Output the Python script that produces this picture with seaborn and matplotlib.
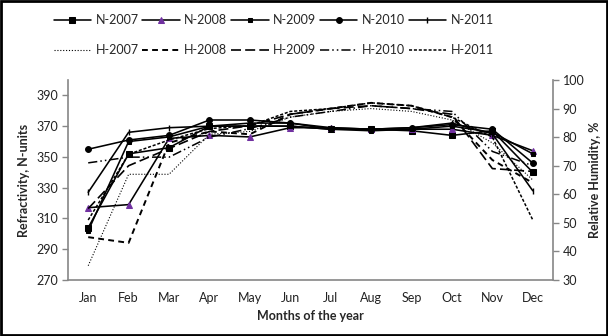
import matplotlib
matplotlib.use("Agg")
import matplotlib.pyplot as plt
import seaborn as sns
import numpy as np
import pandas as pd
from matplotlib.patches import Rectangle

sns.set_style("white")
plt.rcParams['font.family'] = ['Lato', 'DejaVu Sans']

months = ["Jan", "Feb", "Mar", "Apr", "May", "Jun", "Jul", "Aug", "Sep", "Oct", "Nov", "Dec"]

# Refractivity (N-units), left axis
n_2007 = [304, 352, 356, 370, 370, 370, 368, 368, 367, 364, 367, 340]
n_2008 = [317, 319, 362, 364, 363, 369, 369, 368, 368, 368, 364, 354]
n_2009 = [302, 360, 363, 370, 370, 370, 368, 367, 368, 370, 366, 352]
n_2010 = [355, 361, 364, 374, 374, 372, 368, 368, 369, 371, 368, 346]
n_2011 = [327, 366, 369, 370, 372, 372, 369, 368, 369, 372, 365, 328]

# Relative humidity (%), right axis
h_2007 = [35, 67, 67, 81, 82, 87, 89, 90, 89, 86, 78, 65]
h_2008 = [45, 43, 78, 82, 81, 88, 90, 92, 91, 87, 72, 64]
h_2009 = [55, 70, 76, 82, 84, 88, 90, 91, 90, 88, 69, 68]
h_2010 = [71, 73, 73, 80, 83, 87, 89, 91, 90, 89, 75, 70]
h_2011 = [51, 74, 79, 83, 84, 89, 90, 92, 91, 87, 80, 51]

left_ticks = [270, 290, 310, 330, 350, 370, 390]
right_ticks = [30, 40, 50, 60, 70, 80, 90, 100]

x = np.arange(len(months))

fig = plt.figure(figsize=(6.08, 3.36), dpi=100)
ax = fig.add_axes([68/608, 56/336, (553-68)/608, 200/336])
ax2 = ax.twinx()

purple = "#7030A0"
n_series = [
    ("N-2007", n_2007, dict(marker="s", markersize=4.5, markerfacecolor="black", markeredgecolor="black")),
    ("N-2008", n_2008, dict(marker="^", markersize=4, markerfacecolor=purple, markeredgecolor=purple)),
    ("N-2009", n_2009, dict(marker="s", markersize=3, markerfacecolor="black", markeredgecolor="black")),
    ("N-2010", n_2010, dict(marker="o", markersize=4.2, markerfacecolor="black", markeredgecolor="black")),
    ("N-2011", n_2011, dict(marker="|", markersize=5, markeredgewidth=1.0, markerfacecolor="black", markeredgecolor="black")),
]
h_series = [
    ("H-2007", h_2007, dict(linestyle=(0, (1, 1.6)), linewidth=0.8)),
    ("H-2008", h_2008, dict(linestyle=(0, (3, 2.2)), linewidth=1.4)),
    ("H-2009", h_2009, dict(linestyle=(0, (6, 2.5)), linewidth=1.2)),
    ("H-2010", h_2010, dict(linestyle=(0, (6, 2, 1, 2, 1, 2)), linewidth=1.1)),
    ("H-2011", h_2011, dict(linestyle=(0, (2, 1.2)), linewidth=1.1)),
]

n_handles = []
for name, vals, kw in n_series:
    sns.lineplot(x=x, y=vals, ax=ax, color="black", linewidth=1.15, legend=False, **kw)
    n_handles.append(ax.get_lines()[-1])
h_handles = []
for name, vals, kw in h_series:
    sns.lineplot(x=x, y=vals, ax=ax2, color="black", legend=False, **kw)
    h_handles.append(ax2.get_lines()[-1])

grey = "#868686"
ax.set_xlim(-0.5, 11.5)
ax.set_ylim(270, 400)
ax2.set_ylim(30, 100)
ax.set_yticks(left_ticks)
ax2.set_yticks(right_ticks)
ax.set_xticks(x)
ax.set_xticklabels(months)
ax.set_xticks(np.arange(-0.5, 12, 1), minor=True)
ax.tick_params(axis="x", which="major", length=0, pad=9, labelsize=9, colors="#222222")
ax.tick_params(axis="x", which="minor", length=4, width=1, color=grey, direction="out")
ax.tick_params(axis="y", length=4, width=1, color=grey, direction="out", labelsize=9, labelcolor="#222222", pad=3)
ax2.tick_params(axis="y", length=4, width=1, color=grey, direction="out", labelsize=9, labelcolor="#222222", pad=3)

for a in (ax, ax2):
    a.spines["top"].set_visible(False)
    for s in ("left", "right", "bottom"):
        a.spines[s].set_color(grey)
        a.spines[s].set_linewidth(1.2)
    a.grid(False)
    a.set_facecolor("none")
ax.spines["right"].set_visible(False)
ax2.spines["left"].set_visible(False)
ax2.spines["bottom"].set_visible(False)

ax.set_xlabel("Months of the year", fontsize=9, fontweight="bold", labelpad=4)
ax.set_ylabel("Refractivity, N-units", fontsize=9, fontweight="bold", labelpad=5)
ax2.set_ylabel("Relative Humidity, %", fontsize=9, fontweight="bold", labelpad=3)

handles = []
labels = []
for (nn, _, _), hn, (hname, _, _), hh in zip(n_series, n_handles, h_series, h_handles):
    handles += [hn, hh]
    labels += [nn, hname]
fig.legend(handles, labels, ncol=5, loc="center", bbox_to_anchor=(0.45, 0.895),
           frameon=False, fontsize=9, handlelength=3.0, handletextpad=0.35,
           columnspacing=0.3, labelspacing=1.45)

fig.patches.append(Rectangle((0.002, 0.003), 0.996, 0.994, transform=fig.transFigure,
                             fill=False, edgecolor="black", linewidth=2))

fig.savefig("out.png", dpi=100)
